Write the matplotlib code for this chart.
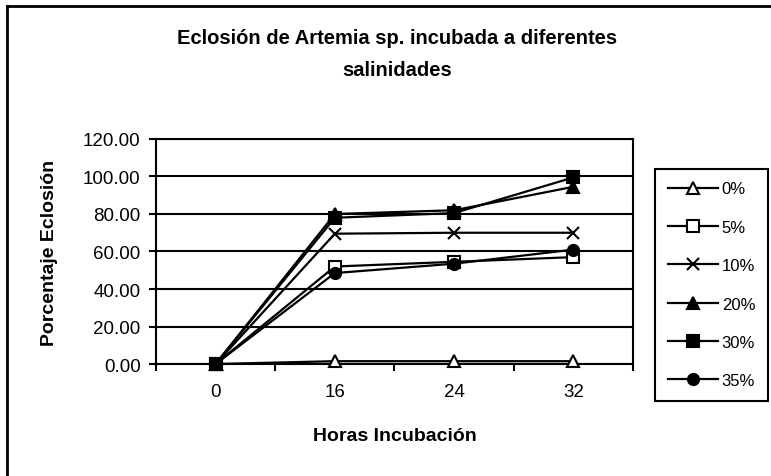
import matplotlib
matplotlib.use("Agg")
import matplotlib.pyplot as plt
from matplotlib.lines import Line2D

plt.rcParams['font.family'] = ['Liberation Sans', 'DejaVu Sans']

horas = ['0', '16', '24', '32']
series = {
    '0%': [0.0, 1.5, 1.5, 1.5],
    '5%': [0.0, 52.0, 54.5, 57.0],
    '10%': [0.0, 69.5, 70.0, 70.0],
    '20%': [0.0, 80.0, 82.0, 94.5],
    '30%': [0.0, 78.0, 80.5, 99.5],
    '35%': [0.0, 48.5, 53.5, 61.0],
}
markers = {
    '0%': ('^', 'white'),
    '5%': ('s', 'white'),
    '10%': ('x', 'black'),
    '20%': ('^', 'black'),
    '30%': ('s', 'black'),
    '35%': ('o', 'black'),
}

fig = plt.figure(figsize=(7.71, 4.77), dpi=100)
ax = fig.add_axes([0.2023, 0.2348, 0.821 - 0.2023, 0.7065 - 0.2348])

x = list(range(len(horas)))
for name, vals in series.items():
    m, fc = markers[name]
    ax.plot(x, vals, color='black', lw=1.6, marker=m, markersize=8,
            markerfacecolor=fc, markeredgecolor='black', markeredgewidth=1.5,
            label=name, clip_on=False, zorder=3)

ax.set_xlim(-0.5, len(horas) - 0.5)
ax.set_ylim(0, 120)
ax.set_yticks(range(0, 121, 20))
ax.set_yticklabels(['%.2f' % v for v in range(0, 121, 20)], fontsize=13.5)
ax.yaxis.grid(True, color='black', lw=1.5)
ax.set_axisbelow(True)

ax.set_xticks([i - 0.5 for i in range(len(horas) + 1)])
ax.set_xticklabels([])
ax.set_xticks(x, minor=True)
ax.set_xticklabels(horas, minor=True, fontsize=13.5)
ax.tick_params(axis='x', which='minor', length=0, pad=14)
ax.tick_params(axis='y', which='major', pad=6)
ax.tick_params(axis='both', which='major', length=5, width=1.5, direction='out')
for s in ax.spines.values():
    s.set_linewidth(1.5)
    s.set_color('black')

fig.text(395 / 771, 1 - 437 / 477, 'Horas Incubación', ha='center', va='center',
         fontsize=14, fontweight='bold')
fig.text(50 / 771, 1 - 253 / 477, 'Porcentaje Eclosión', ha='center', va='center',
         rotation=90, fontsize=14, fontweight='bold')

fig.text(397 / 771, 1 - 38 / 477, 'Eclosión de Artemia sp. incubada a diferentes',
         ha='center', va='center', fontsize=14.5, fontweight='bold')
fig.text(397 / 771, 1 - 70 / 477, 'salinidades',
         ha='center', va='center', fontsize=14.5, fontweight='bold')

leg = fig.legend(loc='upper left', bbox_to_anchor=(655 / 771, 1 - 170 / 477),
                 fontsize=12, frameon=True, fancybox=False, edgecolor='black',
                 framealpha=1, handlelength=3.0, labelspacing=1.4,
                 borderpad=0.75, handletextpad=0.25, borderaxespad=0)
leg.get_frame().set_linewidth(1.5)

# outer chart frame
fig.add_artist(Line2D([7 / 771, 7 / 771], [0, 1 - 7 / 477], color='black', lw=2,
                      transform=fig.transFigure))
fig.add_artist(Line2D([7 / 771, 1], [1 - 7 / 477, 1 - 7 / 477], color='black', lw=2,
                      transform=fig.transFigure))

fig.savefig('out.png', dpi=100)
